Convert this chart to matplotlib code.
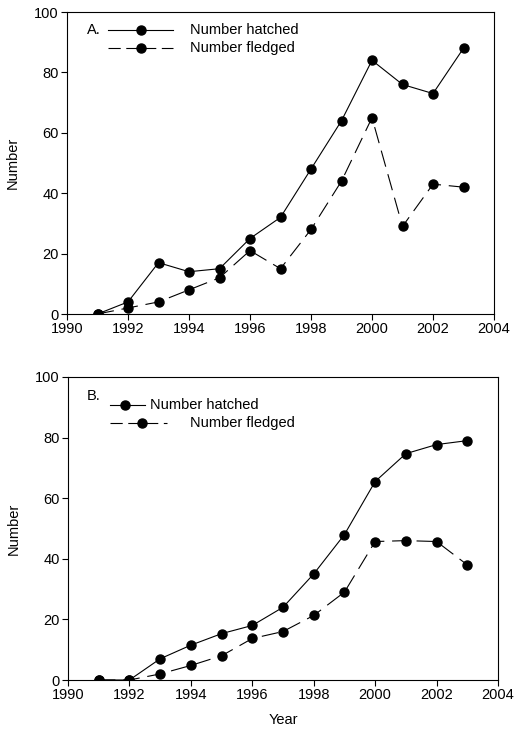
import matplotlib
matplotlib.use("Agg")
import matplotlib.pyplot as plt
from matplotlib.lines import Line2D

plt.rcParams['font.family'] = ['Liberation Sans', 'DejaVu Sans']

years = [1991, 1992, 1993, 1994, 1995, 1996, 1997, 1998, 1999, 2000, 2001, 2002, 2003]
a_hatched = [0, 4, 17, 14, 15, 25, 32, 48, 64, 84, 76, 73, 88]
a_fledged = [0, 2, 4, 8, 12, 21, 15, 28, 44, 65, 29, 43, 42]
b_hatched = [0, 0, 7, 11.5, 15.3, 18, 24, 35, 48, 65.5, 74.7, 77.7, 79]
b_fledged = [0, 0, 2, 4.8, 8, 13.7, 16, 21.3, 29, 45.7, 46, 45.7, 38]
xticks = [1990, 1992, 1994, 1996, 1998, 2000, 2002, 2004]
yticks = [0, 20, 40, 60, 80, 100]

W, H = 528, 733
fig = plt.figure(figsize=(W / 100, H / 100), dpi=100)

def px(x0, y0, x1, y1):
    return [x0 / W, 1 - y1 / H, (x1 - x0) / W, (y1 - y0) / H]

axA = fig.add_axes(px(67, 12, 494, 314))
axB = fig.add_axes(px(68, 377, 498, 680))

dash = (0, (15, 7))
ms = 6.5
fs = 10.5
for ax, h, f in [(axA, a_hatched, a_fledged), (axB, b_hatched, b_fledged)]:
    ax.plot(years, h, color='black', lw=0.8, marker='o', ms=ms, zorder=3)
    ax.plot(years, f, color='black', lw=0.8, ls=dash, marker='o', ms=ms, zorder=3)
    ax.set_xlim(1990, 2004)
    ax.set_ylim(0, 100)
    ax.set_xticks(xticks)
    ax.set_yticks(yticks)
    ax.tick_params(direction='out', length=4, width=0.8, labelsize=fs, pad=2)
    for s in ax.spines.values():
        s.set_linewidth(0.8)
    ax.set_ylabel('Number', fontsize=fs, labelpad=10)

axB.set_xlabel('Year', fontsize=fs, labelpad=8)

def legline(x0, x1, xm, y, ls):
    fig.add_artist(Line2D([x0 / W, x1 / W], [1 - y / H, 1 - y / H], color='black', lw=0.8, ls=ls))
    fig.add_artist(Line2D([xm / W], [1 - y / H], color='black', marker='o', ms=ms, ls='none'))

# Legend A
fig.text(87 / W, 1 - 30 / H, 'A.', fontsize=fs, va='center', ha='left')
legline(108, 173, 141, 30, '-')
fig.text(190 / W, 1 - 30 / H, 'Number hatched', fontsize=fs, va='center', ha='left')
legline(108, 173, 141, 48, (0, (11, 5)))
fig.text(190 / W, 1 - 48 / H, 'Number fledged', fontsize=fs, va='center', ha='left')

# Legend B
fig.text(87 / W, 1 - 396 / H, 'B.', fontsize=fs, va='center', ha='left')
legline(110, 145, 125, 405, '-')
fig.text(150 / W, 1 - 405 / H, 'Number hatched', fontsize=fs, va='center', ha='left')
legline(110, 167, 142, 423, (0, (11, 5)))
fig.text(190 / W, 1 - 423 / H, 'Number fledged', fontsize=fs, va='center', ha='left')

fig.savefig('out.png', dpi=100)
